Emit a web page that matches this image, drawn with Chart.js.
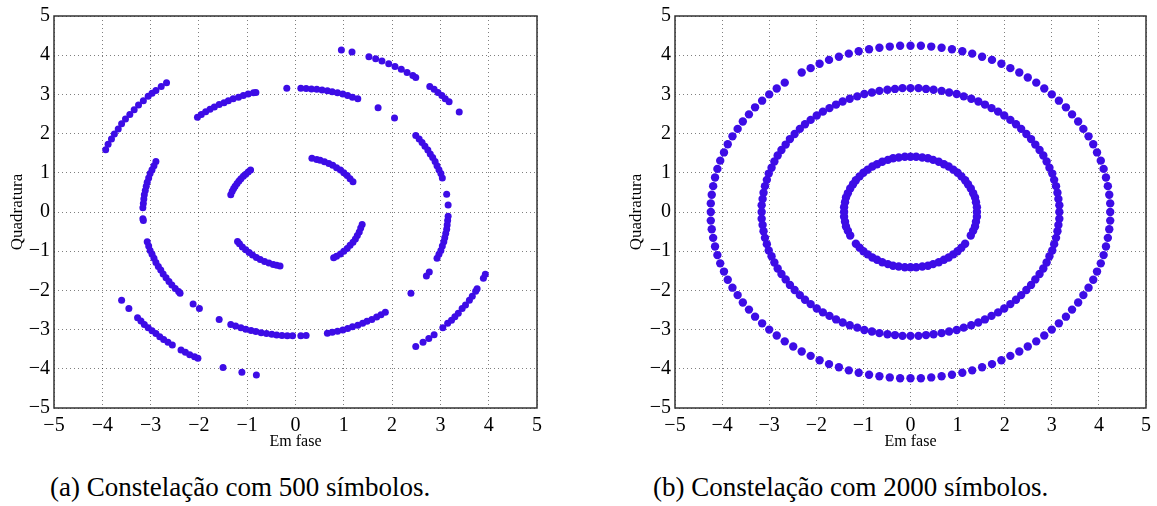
<!DOCTYPE html>
<html>
<head>
  <meta charset="utf-8">
  <title>Constelação</title>
  <script src="https://cdn.jsdelivr.net/npm/chart.js"></script>
  <style>
    body { margin: 0; width: 1157px; height: 506px; position: relative; background: #fff; overflow: hidden; }
    canvas { position: absolute; top: 0; }
    .cap { position: absolute; top: 474px; font-family: 'Liberation Serif', 'DejaVu Serif', serif; font-size: 27px; line-height: 27px; color: #000; white-space: nowrap; }
  </style>
</head>
<body>

<canvas id="chartA" width="580" height="460" style="left:0"></canvas>
<canvas id="chartB" width="577" height="460" style="left:580px"></canvas>
<div class="cap" style="left:50px">(a) Constelação com 500 símbolos.</div>
<div class="cap" style="left:653px">(b) Constelação com 2000 símbolos.</div>

<script>
  // eixos
  const axisMin = -5, axisMax = 5;
  const xTitle = 'Em fase';
  const yTitle = 'Quadratura';

  // (a) 500 símbolos - arcos
  const leftInner = [
    [0.34,1.37],[0.44,1.34],[0.51,1.32],[0.60,1.28],[0.69,1.24],[0.77,1.19],[0.85,1.13],[0.93,1.07],[1.00,1.00],[1.07,0.93],[1.13,0.85],[1.19,0.77],
    [-1.34,0.44],[-1.31,0.53],[-1.28,0.60],[-1.25,0.66],[-1.21,0.73],[-1.17,0.79],[-1.13,0.85],[-1.08,0.91],[-1.03,0.96],[-0.98,1.02],[-0.93,1.07],
    [-1.20,-0.75],[-1.16,-0.81],[-1.10,-0.89],[-1.03,-0.96],[-0.96,-1.03],[-0.89,-1.10],[-0.81,-1.16],[-0.73,-1.21],[-0.64,-1.26],[-0.55,-1.30],[-0.46,-1.34],[-0.39,-1.36],[-0.32,-1.38],
    [1.38,-0.32],[1.35,-0.41],[1.32,-0.51],[1.28,-0.60],[1.24,-0.69],[1.19,-0.77],[1.13,-0.85],[1.07,-0.93],[1.00,-1.00],[0.93,-1.07],[0.85,-1.13],[0.79,-1.17]
  ];
  const leftMiddle = [
    [2.49,1.95],[2.56,1.86],[2.62,1.77],[2.68,1.68],[2.74,1.58],[2.79,1.48],[2.84,1.39],[2.89,1.29],[2.93,1.18],[2.97,1.08],[3.01,0.98],[3.04,0.87],[3.13,0.45],[3.16,0.18],
    [3.16,-0.11],[3.15,-0.22],[3.14,-0.33],[3.13,-0.44],[3.11,-0.55],[3.09,-0.66],[3.07,-0.76],[3.04,-0.87],[3.01,-0.98],[2.97,-1.08],[2.93,-1.18],[2.77,-1.53],[2.71,-1.63],[2.39,-2.07],
    [-0.18,3.16],[0.11,3.16],[0.22,3.15],[0.33,3.14],[0.44,3.13],[0.55,3.11],[0.66,3.09],[0.76,3.07],[0.87,3.04],[0.98,3.01],[1.08,2.97],[1.18,2.93],[1.29,2.89],[1.71,2.66],[2.05,2.40],
    [-2.03,2.42],[-1.95,2.49],[-1.86,2.56],[-1.77,2.62],[-1.68,2.68],[-1.58,2.74],[-1.48,2.79],[-1.39,2.84],[-1.29,2.89],[-1.18,2.93],[-1.08,2.97],[-0.98,3.01],[-0.87,3.04],[-0.82,3.05],
    [-2.89,1.29],[-2.93,1.18],[-2.97,1.08],[-3.01,0.98],[-3.04,0.87],[-3.07,0.76],[-3.09,0.66],[-3.11,0.55],[-3.13,0.44],[-3.14,0.33],[-3.15,0.22],[-3.16,0.11],[-3.16,-0.17],[-3.15,-0.22],
    [-3.07,-0.76],[-3.04,-0.87],[-3.01,-0.98],[-2.97,-1.08],[-2.93,-1.18],[-2.89,-1.29],[-2.84,-1.39],[-2.79,-1.48],[-2.74,-1.58],[-2.68,-1.68],[-2.62,-1.77],[-2.56,-1.86],[-2.49,-1.95],[-2.42,-2.03],[-2.39,-2.07],[-2.12,-2.35],[-1.99,-2.46],
    [-1.58,-2.74],[-1.34,-2.87],[-1.24,-2.91],[-1.13,-2.95],[-1.03,-2.99],[-0.92,-3.02],[-0.82,-3.05],[-0.71,-3.08],[-0.60,-3.10],[-0.49,-3.12],[-0.39,-3.14],[-0.28,-3.15],[-0.17,-3.16],[-0.06,-3.16],[0.11,-3.16],[0.22,-3.15],
    [0.66,-3.09],[0.76,-3.07],[0.87,-3.04],[0.98,-3.01],[1.08,-2.97],[1.18,-2.93],[1.29,-2.89],[1.39,-2.84],[1.48,-2.79],[1.58,-2.74],[1.68,-2.68],[1.77,-2.62],[1.86,-2.56]
  ];
  const leftOuter = [
    [0.95,4.13],[1.17,4.08],[1.52,3.96],[1.66,3.91],[1.79,3.85],[1.93,3.78],[2.06,3.71],[2.19,3.64],[2.31,3.56],[2.43,3.48],[2.49,3.43],[2.78,3.20],[2.87,3.13],[2.95,3.05],[3.03,2.97],[3.10,2.89],[3.18,2.81],[3.39,2.55],
    [-2.67,3.30],[-2.78,3.20],[-2.89,3.10],[-2.97,3.03],[-3.05,2.95],[-3.15,2.84],[-3.25,2.73],[-3.34,2.61],[-3.43,2.49],[-3.52,2.37],[-3.60,2.25],[-3.67,2.12],[-3.75,1.99],[-3.81,1.86],[-3.88,1.73],[-3.93,1.59],
    [-3.60,-2.25],[-3.45,-2.46],[-3.27,-2.70],[-3.20,-2.78],[-3.13,-2.87],[-3.05,-2.95],[-2.97,-3.03],[-2.89,-3.10],[-2.81,-3.18],[-2.73,-3.25],[-2.64,-3.32],[-2.55,-3.39],[-2.37,-3.52],[-2.28,-3.58],[-2.19,-3.64],[-2.09,-3.69],[-2.02,-3.73],[-1.50,-3.97],[-1.11,-4.09],[-0.81,-4.16],
    [2.49,-3.43],[2.64,-3.32],[2.76,-3.23],[2.87,-3.13],[3.05,-2.95],[3.15,-2.84],[3.23,-2.76],[3.30,-2.67],[3.37,-2.58],[3.45,-2.46],[3.52,-2.37],[3.60,-2.25],[3.66,-2.15],[3.73,-2.02],[3.76,-1.96],[3.89,-1.69],[3.93,-1.59]
  ];

  // (b) 2000 símbolos - anéis
  const rightInner = [
    [1.41,0],[1.41,0.12],[1.39,0.25],[1.37,0.37],[1.33,0.48],[1.28,0.60],[1.22,0.71],[1.16,0.81],[1.08,0.91],[1.00,1.00],[0.91,1.08],[0.81,1.16],[0.71,1.22],[0.60,1.28],[0.48,1.33],[0.37,1.37],[0.25,1.39],[0.12,1.41],
    [0,1.41],[-0.12,1.41],[-0.25,1.39],[-0.37,1.37],[-0.48,1.33],[-0.60,1.28],[-0.71,1.22],[-0.81,1.16],[-0.91,1.08],[-1.00,1.00],[-1.08,0.91],[-1.16,0.81],[-1.22,0.71],[-1.28,0.60],[-1.33,0.48],[-1.37,0.37],[-1.39,0.25],[-1.41,0.12],
    [-1.41,0],[-1.41,-0.12],[-1.39,-0.25],[-1.37,-0.37],[-1.33,-0.48],[-1.28,-0.60],[-1.16,-0.81],[-1.08,-0.91],[-1.00,-1.00],[-0.91,-1.08],[-0.81,-1.16],[-0.71,-1.22],[-0.60,-1.28],[-0.48,-1.33],[-0.37,-1.37],[-0.25,-1.39],[-0.12,-1.41],
    [0,-1.41],[0.12,-1.41],[0.25,-1.39],[0.37,-1.37],[0.48,-1.33],[0.60,-1.28],[0.71,-1.22],[0.81,-1.16],[0.91,-1.08],[1.00,-1.00],[1.08,-0.91],[1.16,-0.81],[1.28,-0.60],[1.33,-0.48],[1.37,-0.37],[1.39,-0.25],[1.41,-0.12]
  ];
  const rightMiddle = [
    [3.16,0],[3.16,0.17],[3.14,0.33],[3.12,0.49],[3.09,0.66],[3.05,0.82],[3.01,0.98],[2.95,1.13],[2.89,1.29],[2.82,1.44],[2.74,1.58],[2.65,1.72],[2.56,1.86],[2.46,1.99],[2.35,2.12],[2.24,2.24],[2.12,2.35],[1.99,2.46],[1.86,2.56],[1.72,2.65],[1.58,2.74],[1.44,2.82],[1.29,2.89],[1.13,2.95],[0.98,3.01],[0.82,3.05],[0.66,3.09],[0.49,3.12],[0.33,3.14],[0.17,3.16],
    [0,3.16],[-0.17,3.16],[-0.33,3.14],[-0.49,3.12],[-0.66,3.09],[-0.82,3.05],[-0.98,3.01],[-1.13,2.95],[-1.29,2.89],[-1.44,2.82],[-1.58,2.74],[-1.72,2.65],[-1.86,2.56],[-1.99,2.46],[-2.12,2.35],[-2.24,2.24],[-2.35,2.12],[-2.46,1.99],[-2.56,1.86],[-2.65,1.72],[-2.74,1.58],[-2.82,1.44],[-2.89,1.29],[-2.95,1.13],[-3.01,0.98],[-3.05,0.82],[-3.09,0.66],[-3.12,0.49],[-3.14,0.33],[-3.16,0.17],
    [-3.16,0],[-3.16,-0.17],[-3.14,-0.33],[-3.12,-0.49],[-3.09,-0.66],[-3.05,-0.82],[-3.01,-0.98],[-2.95,-1.13],[-2.89,-1.29],[-2.82,-1.44],[-2.74,-1.58],[-2.65,-1.72],[-2.56,-1.86],[-2.46,-1.99],[-2.35,-2.12],[-2.24,-2.24],[-2.12,-2.35],[-1.99,-2.46],[-1.86,-2.56],[-1.72,-2.65],[-1.58,-2.74],[-1.44,-2.82],[-1.29,-2.89],[-1.13,-2.95],[-0.98,-3.01],[-0.82,-3.05],[-0.66,-3.09],[-0.49,-3.12],[-0.33,-3.14],[-0.17,-3.16],
    [0,-3.16],[0.17,-3.16],[0.33,-3.14],[0.49,-3.12],[0.66,-3.09],[0.82,-3.05],[0.98,-3.01],[1.13,-2.95],[1.29,-2.89],[1.44,-2.82],[1.58,-2.74],[1.72,-2.65],[1.86,-2.56],[1.99,-2.46],[2.12,-2.35],[2.24,-2.24],[2.35,-2.12],[2.46,-1.99],[2.56,-1.86],[2.65,-1.72],[2.74,-1.58],[2.82,-1.44],[2.89,-1.29],[2.95,-1.13],[3.01,-0.98],[3.05,-0.82],[3.09,-0.66],[3.12,-0.49],[3.14,-0.33],[3.16,-0.17]
  ];
  const rightOuter = [
    [4.24,0],[4.24,0.22],[4.22,0.44],[4.19,0.66],[4.15,0.88],[4.10,1.10],[4.04,1.31],[3.96,1.52],[3.88,1.73],[3.78,1.93],[3.67,2.12],[3.56,2.31],[3.43,2.49],[3.30,2.67],[3.15,2.84],[3.00,3.00],[2.84,3.15],[2.67,3.30],[2.49,3.43],[2.31,3.56],[2.12,3.67],[1.93,3.78],[1.73,3.88],[1.52,3.96],[1.31,4.04],[1.10,4.10],[0.88,4.15],[0.66,4.19],[0.44,4.22],[0.22,4.24],
    [0,4.24],[-0.22,4.24],[-0.44,4.22],[-0.66,4.19],[-0.88,4.15],[-1.10,4.10],[-1.31,4.04],[-1.52,3.96],[-1.73,3.88],[-1.93,3.78],[-2.12,3.67],[-2.31,3.56],[-2.67,3.30],[-2.84,3.15],[-3.00,3.00],[-3.15,2.84],[-3.30,2.67],[-3.43,2.49],[-3.56,2.31],[-3.67,2.12],[-3.78,1.93],[-3.88,1.73],[-3.96,1.52],[-4.04,1.31],[-4.10,1.10],[-4.15,0.88],[-4.19,0.66],[-4.22,0.44],[-4.24,0.22],
    [-4.24,0],[-4.24,-0.22],[-4.22,-0.44],[-4.19,-0.66],[-4.15,-0.88],[-4.10,-1.10],[-4.04,-1.31],[-3.96,-1.52],[-3.88,-1.73],[-3.78,-1.93],[-3.67,-2.12],[-3.56,-2.31],[-3.43,-2.49],[-3.30,-2.67],[-3.15,-2.84],[-3.00,-3.00],[-2.84,-3.15],[-2.67,-3.30],[-2.49,-3.43],[-2.31,-3.56],[-2.12,-3.67],[-1.93,-3.78],[-1.73,-3.88],[-1.52,-3.96],[-1.31,-4.04],[-1.10,-4.10],[-0.88,-4.15],[-0.66,-4.19],[-0.44,-4.22],[-0.22,-4.24],
    [0,-4.24],[0.22,-4.24],[0.44,-4.22],[0.66,-4.19],[0.88,-4.15],[1.10,-4.10],[1.31,-4.04],[1.52,-3.96],[1.73,-3.88],[1.93,-3.78],[2.12,-3.67],[2.31,-3.56],[2.49,-3.43],[2.67,-3.30],[2.84,-3.15],[3.00,-3.00],[3.15,-2.84],[3.30,-2.67],[3.43,-2.49],[3.56,-2.31],[3.67,-2.12],[3.78,-1.93],[3.88,-1.73],[3.96,-1.52],[4.04,-1.31],[4.10,-1.10],[4.15,-0.88],[4.19,-0.66],[4.22,-0.44],[4.24,-0.22]
  ];

  const pointColor = '#3d0ce6';
  const serif = "'Liberation Serif', 'DejaVu Serif', serif";

  // moldura do gráfico (estilo matlab)
  const frame = {
    id: 'frame',
    afterDraw(chart) {
      const a = chart.chartArea, ctx = chart.ctx;
      ctx.save();
      ctx.strokeStyle = '#333';
      ctx.lineWidth = 1.5;
      ctx.strokeRect(a.left, a.top, a.right - a.left, a.bottom - a.top);
      ctx.restore();
    }
  };

  function minus(v) { return v < 0 ? '\u2212' + Math.abs(v) : '' + v; }

  function makeChart(id, rings, padLeft, padRight, yWidth, yTitlePad, radius) {
    const pts = [].concat(...rings).map(p => ({ x: p[0], y: p[1] }));
    return new Chart(document.getElementById(id), {
      type: 'scatter',
      data: {
        datasets: [{
          data: pts,
          backgroundColor: pointColor,
          borderWidth: 0,
          pointRadius: radius,
          pointHoverRadius: radius
        }]
      },
      options: {
        responsive: false,
        animation: false,
        devicePixelRatio: 1,
        layout: { padding: { top: 10, left: padLeft, right: padRight, bottom: 0 } },
        plugins: { legend: { display: false }, tooltip: { enabled: false } },
        scales: {
          x: {
            type: 'linear', min: axisMin, max: axisMax,
            ticks: { stepSize: 1, color: '#000', padding: 6, font: { family: serif, size: 20 }, callback: minus, autoSkip: false, maxRotation: 0 },
            grid: { color: 'rgba(0,0,0,0.5)', lineWidth: 1, drawTicks: false },
            border: { display: false, dash: [1, 3] },
            title: { display: true, text: xTitle, color: '#000', font: { family: serif, size: 16 }, padding: { top: 0, bottom: 9 } },
            afterFit: s => { s.height = 52; }
          },
          y: {
            type: 'linear', min: axisMin, max: axisMax,
            ticks: { stepSize: 1, color: '#000', padding: 4, font: { family: serif, size: 20 }, callback: minus, autoSkip: false },
            grid: { color: 'rgba(0,0,0,0.5)', lineWidth: 1, drawTicks: false },
            border: { display: false, dash: [1, 3] },
            title: { display: true, text: yTitle, color: '#000', font: { family: serif, size: 17 }, padding: { top: yTitlePad, bottom: 0 } },
            afterFit: s => { s.width = yWidth; }
          }
        }
      },
      plugins: [frame]
    });
  }

  makeChart('chartA', [leftInner, leftMiddle, leftOuter], 0, 43, 54, 7, 3.5);
  makeChart('chartB', [rightInner, rightMiddle, rightOuter], 40, 11, 55, 6, 4.2);
</script>

</body>
</html>
